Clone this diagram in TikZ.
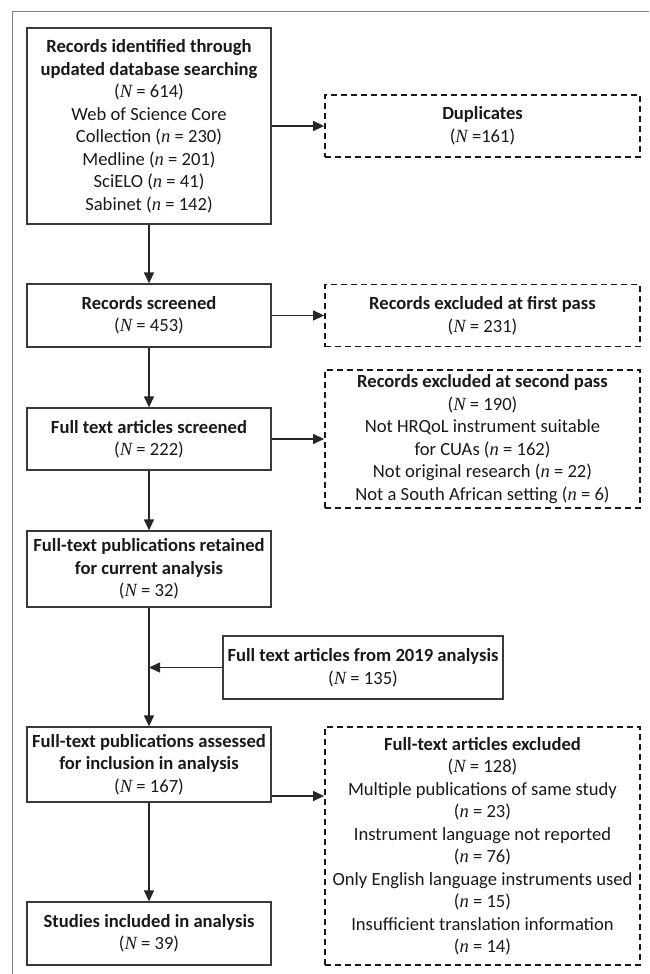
\documentclass[tikz,border=0pt]{standalone}
\usepackage{fontspec}
\setmainfont{Carlito}
\newfontfamily\timesfont{Liberation Serif}
\usetikzlibrary{arrows.meta}
\newcommand{\bigN}{{\timesfont\itshape N}}
\newcommand{\smalln}{{\timesfont\itshape n}}
\definecolor{boxline}{HTML}{3A3A3A}
\definecolor{framegray}{HTML}{7F7F7F}
\tikzstyle{stage} = [draw = boxline, line width = 0.65pt, align = center, inner sep = 0pt, text = black!90, font = \fontsize{9.3}{11.25}\selectfont]
\tikzstyle{excluded} = [stage, draw = black!90, dash pattern = on 3pt off 2pt, line width = 0.9pt]
\tikzstyle{flow} = [-{Triangle[length = 5.5pt, width = 5pt]}, line width = 0.65pt, draw = black!85, fill = black!85]

\begin{document}
\begin{tikzpicture}[x = 0.5pt, y = -0.5pt]
            \useasboundingbox (0, 0) rectangle (649, 974);
            \draw [framegray, line width = 0.5pt] (12, 974) -- (12, 12) -- (649, 12);
            % main stages
            \node (ident) at (149, 126) [stage, minimum width = 122pt, minimum height = 98pt] {\textbf{Records identified through}\\\textbf{updated database searching}\\(\bigN{} = 614)\\Web of Science Core\\Collection (\smalln{} = 230)\\Medline (\smalln{} = 201)\\SciELO (\smalln{} = 41)\\Sabinet (\smalln{} = 142)};
            \node (screen) at (149, 315.5) [stage, minimum width = 122pt, minimum height = 31.5pt] {\textbf{Records screened}\\(\bigN{} = 453)};
            \node (fulltext) at (149, 439) [stage, minimum width = 122pt, minimum height = 31pt] {\textbf{Full text articles screened}\\(\bigN{} = 222)};
            \node (retained) at (149, 569) [stage, minimum width = 122pt, minimum height = 38pt] {\textbf{Full-text publications retained}\\\textbf{for current analysis}\\(\bigN{} = 32)};
            \node (prior) at (363, 667.5) [stage, minimum width = 140pt, minimum height = 31.5pt] {\textbf{Full text articles from 2019 analysis}\\(\bigN{} = 135)};
            \node (assessed) at (149, 764.5) [stage, minimum width = 122pt, minimum height = 37.5pt] {\textbf{Full-text publications assessed}\\\textbf{for inclusion in analysis}\\(\bigN{} = 167)};
            \node (included) at (149, 933.5) [stage, minimum width = 122pt, minimum height = 31.5pt] {\textbf{Studies included in analysis}\\(\bigN{} = 39)};
            % excluded records
            \node (dup) at (482.5, 126) [excluded, minimum width = 157.5pt, minimum height = 31pt] {\textbf{Duplicates}\\(\bigN{} =161)};
            \node (excla) at (482.5, 315.5) [excluded, minimum width = 157.5pt, minimum height = 31pt] {\textbf{Records excluded at first pass}\\(\bigN{} = 231)};
            \node (exclb) at (482.5, 439) [excluded, minimum width = 157.5pt, minimum height = 69pt] {\textbf{Records excluded at second pass}\\(\bigN{} = 190)\\Not HRQoL instrument suitable\\for CUAs (\smalln{} = 162)\\Not original research (\smalln{} = 22)\\Not a South African setting (\smalln{} = 6)};
            \node (exclc) at (482.5, 846) [excluded, minimum width = 157.5pt, minimum height = 119pt] {\textbf{Full-text articles excluded}\\(\bigN{} = 128)\\Multiple publications of same study\\(\smalln{} = 23)\\Instrument language not reported\\(\smalln{} = 76)\\Only English language instruments used\\(\smalln{} = 15)\\Insufficient translation information\\(\smalln{} = 14)};
            \coordinate (merge) at (retained.south |- prior.west);
            \coordinate (leave) at ([yshift = -15.75pt]assessed.east);
            \draw [flow] (ident) -- (dup);
            \draw [flow] (ident) -- (screen);
            \draw [flow] (screen) -- (excla);
            \draw [flow] (screen) -- (fulltext);
            \draw [flow] (fulltext) -- (exclb);
            \draw [flow] (fulltext) -- (retained);
            \draw [flow] (retained) -- (assessed);
            \draw [flow] (prior) -- (merge);
            \draw [flow] (assessed) -- (included);
            \draw [flow] (leave) -- (leave -| exclc.west);
        \end{tikzpicture}
\end{document}
